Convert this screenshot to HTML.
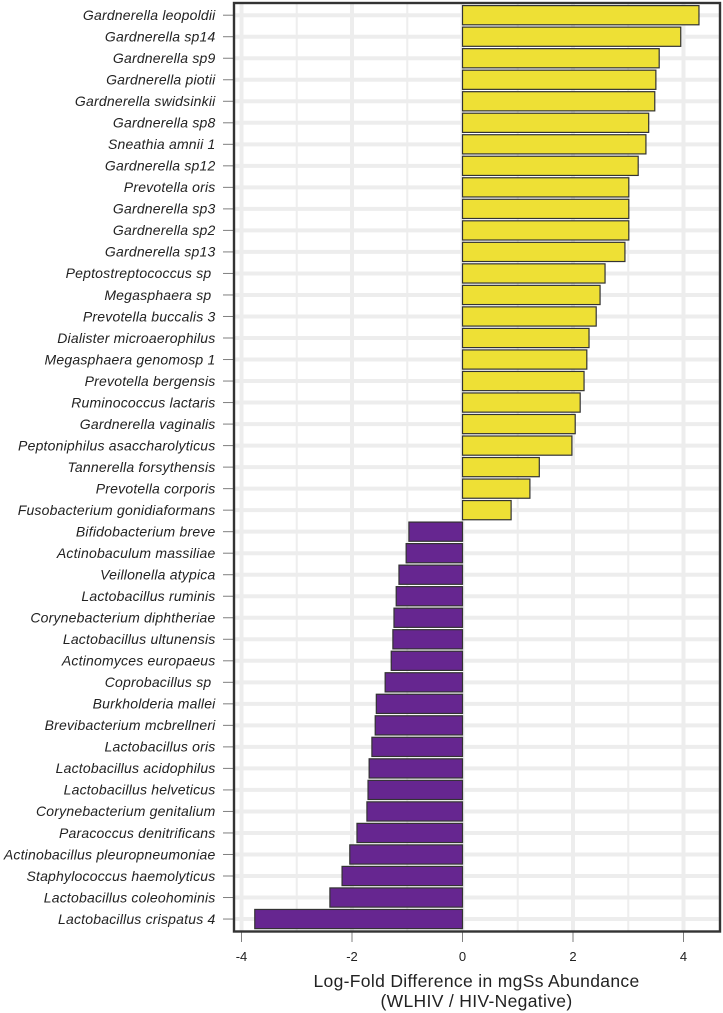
<!DOCTYPE html>
<html lang="en">
<head>
<meta charset="utf-8">
<title>Log-Fold Difference in mgSs Abundance</title>
<style>
html,body{margin:0;padding:0;background:#fff;}
svg{display:block;}
text{font-family:"Liberation Sans",sans-serif;}
</style>
</head>
<body>
<svg id="chart" xmlns="http://www.w3.org/2000/svg" width="723" height="1013" viewBox="0 0 723 1013"></svg>
<script>
const categories = ["Gardnerella leopoldii","Gardnerella sp14","Gardnerella sp9","Gardnerella piotii","Gardnerella swidsinkii","Gardnerella sp8","Sneathia amnii 1","Gardnerella sp12","Prevotella oris","Gardnerella sp3","Gardnerella sp2","Gardnerella sp13","Peptostreptococcus sp ","Megasphaera sp ","Prevotella buccalis 3","Dialister microaerophilus","Megasphaera genomosp 1","Prevotella bergensis","Ruminococcus lactaris","Gardnerella vaginalis","Peptoniphilus asaccharolyticus","Tannerella forsythensis","Prevotella corporis","Fusobacterium gonidiaformans","Bifidobacterium breve","Actinobaculum massiliae","Veillonella atypica","Lactobacillus ruminis","Corynebacterium diphtheriae","Lactobacillus ultunensis","Actinomyces europaeus","Coprobacillus sp ","Burkholderia mallei","Brevibacterium mcbrellneri","Lactobacillus oris","Lactobacillus acidophilus","Lactobacillus helveticus","Corynebacterium genitalium","Paracoccus denitrificans","Actinobacillus pleuropneumoniae","Staphylococcus haemolyticus","Lactobacillus coleohominis","Lactobacillus crispatus 4"];
const logFoldValues = [4.28,3.95,3.56,3.50,3.48,3.37,3.32,3.18,3.01,3.01,3.01,2.94,2.58,2.49,2.42,2.29,2.25,2.20,2.13,2.04,1.98,1.39,1.22,0.88,-0.97,-1.02,-1.15,-1.20,-1.24,-1.26,-1.29,-1.40,-1.56,-1.58,-1.64,-1.69,-1.71,-1.73,-1.91,-2.04,-2.18,-2.40,-3.76];
const xTickValues = [-4,-2,0,2,4];
const xMinorValues = [-3,-1,1,3];

const svg = document.getElementById('chart');
const NS = 'http://www.w3.org/2000/svg';
const xScale = v => 462.5 + v * 55.25;
const yScale = i => 15.2 + i * 21.52;

function make(tag, attrs, text) {
  const el = document.createElementNS(NS, tag);
  for (const k in attrs) el.setAttribute(k, attrs[k]);
  if (text !== undefined) el.textContent = text;
  svg.appendChild(el);
  return el;
}

const panel = {l: 234, r: 720, t: 3, b: 931.5};

const panelBg = make('rect', {x: panel.l, y: panel.t, width: panel.r - panel.l, height: panel.b - panel.t, fill: '#fff'});



xMinorValues.forEach(v => {
  const g = make('line', {x1: xScale(v), x2: xScale(v), y1: panel.t, y2: panel.b, stroke: '#eeeeee', 'stroke-width': 2});
  
  
});
categories.forEach((c, i) => {
  const g = make('line', {x1: panel.l, x2: panel.r, y1: yScale(i), y2: yScale(i), stroke: '#ededed', 'stroke-width': 4});
  
  
});
xTickValues.forEach(v => {
  const g = make('line', {x1: xScale(v), x2: xScale(v), y1: panel.t, y2: panel.b, stroke: '#ededed', 'stroke-width': 4});
  
  
});

categories.forEach((c, i) => {
  const v = logFoldValues[i];
  const x0 = xScale(Math.min(v, 0));
  const x1 = xScale(Math.max(v, 0));
  const bar = make('rect', {x: x0, y: yScale(i) - 9.6, width: x1 - x0, height: 19.2, fill: v >= 0 ? '#eee035' : '#662690', stroke: '#333333', 'stroke-width': 1.2});
  
  
});

categories.forEach((c, i) => {
  const t = make('line', {x1: 223, x2: panel.l, y1: yScale(i), y2: yScale(i), stroke: '#7f7f7f', 'stroke-width': 1});
  
  
  const lab = make('text', {x: 215.5, y: yScale(i) + 4.8, 'text-anchor': 'end', 'font-size': 14, 'letter-spacing': 0.2, 'font-style': 'italic', fill: '#222', 'xml:space': 'preserve', style: 'white-space:pre'}, c);
  
  
});

xTickValues.forEach(v => {
  const t = make('line', {x1: xScale(v), x2: xScale(v), y1: panel.b, y2: 942, stroke: '#7f7f7f', 'stroke-width': 1});
  
  
  const lab = make('text', {x: xScale(v), y: 961, 'text-anchor': 'middle', 'font-size': 13, fill: '#222'}, String(v));
  
  
});

const border = make('rect', {x: panel.l, y: panel.t, width: panel.r - panel.l, height: panel.b - panel.t, fill: 'none', stroke: '#333', 'stroke-width': 2.4});



const title1 = make('text', {x: 476.5, y: 987, 'text-anchor': 'middle', 'font-size': 17.5, 'letter-spacing': 0.33, fill: '#222'}, 'Log-Fold Difference in mgSs Abundance');


const title2 = make('text', {x: 476.5, y: 1007, 'text-anchor': 'middle', 'font-size': 17.5, 'letter-spacing': 0.33, fill: '#222'}, '(WLHIV / HIV-Negative)');


</script>
</body>
</html>
